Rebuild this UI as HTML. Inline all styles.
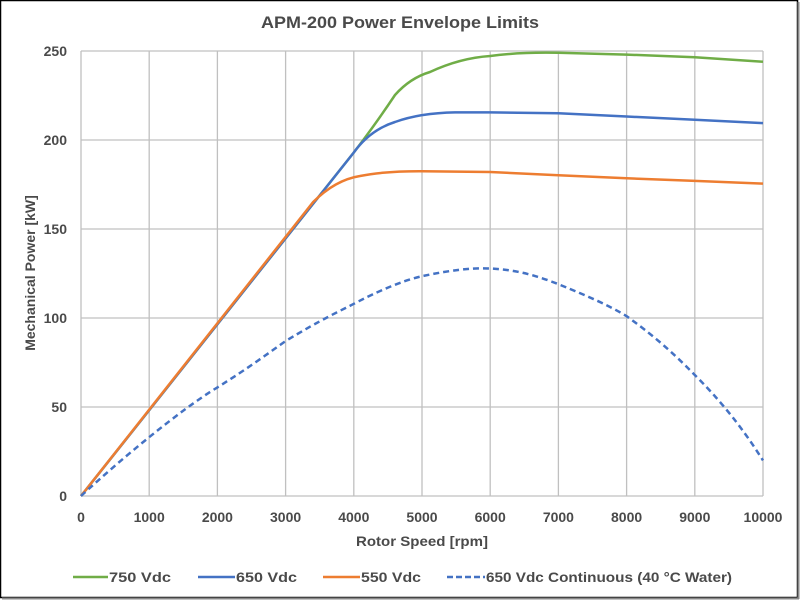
<!DOCTYPE html>
<html><head><style>
body{margin:0;background:#fff}
svg{display:block}
text{font-family:"Liberation Sans",Arial,sans-serif;font-weight:bold;fill:#4a4a4a}
</style></head><body>
<svg width="800" height="600" viewBox="0 0 800 600">
<rect x="0.5" y="0.5" width="797" height="597" fill="#fff" stroke="#000" stroke-width="1.5"/>
<line x1="798.5" y1="2" x2="798.5" y2="599" stroke="#888" stroke-width="2"/>
<line x1="2" y1="598.5" x2="799" y2="598.5" stroke="#888" stroke-width="2"/>
<text x="261" y="28" font-size="17" textLength="278" lengthAdjust="spacingAndGlyphs">APM-200 Power Envelope Limits</text>
<g stroke="#c0c0c0" stroke-width="1.3">
<line x1="81" y1="51" x2="763" y2="51"/><line x1="81" y1="140" x2="763" y2="140"/><line x1="81" y1="229" x2="763" y2="229"/><line x1="81" y1="318" x2="763" y2="318"/><line x1="81" y1="407" x2="763" y2="407"/><line x1="81" y1="496" x2="763" y2="496"/>
<line x1="81" y1="51" x2="81" y2="496"/><line x1="149.2" y1="51" x2="149.2" y2="496"/><line x1="217.4" y1="51" x2="217.4" y2="496"/><line x1="285.6" y1="51" x2="285.6" y2="496"/><line x1="353.8" y1="51" x2="353.8" y2="496"/><line x1="422" y1="51" x2="422" y2="496"/><line x1="490.2" y1="51" x2="490.2" y2="496"/><line x1="558.4" y1="51" x2="558.4" y2="496"/><line x1="626.6" y1="51" x2="626.6" y2="496"/><line x1="694.8" y1="51" x2="694.8" y2="496"/><line x1="763" y1="51" x2="763" y2="496"/>
</g>
<g font-size="14" text-anchor="end">
<text x="67" y="56">250</text><text x="67" y="145">200</text><text x="67" y="234">150</text><text x="67" y="323">100</text><text x="67" y="412">50</text><text x="67" y="501">0</text>
</g>
<g font-size="14" text-anchor="middle">
<text x="81" y="522">0</text><text x="149.2" y="522">1000</text><text x="217.4" y="522">2000</text><text x="285.6" y="522">3000</text><text x="353.8" y="522">4000</text><text x="422" y="522">5000</text><text x="490.2" y="522">6000</text><text x="558.4" y="522">7000</text><text x="626.6" y="522">8000</text><text x="694.8" y="522">9000</text><text x="763" y="522">10000</text>
</g>
<text x="356" y="546" font-size="14" textLength="132" lengthAdjust="spacingAndGlyphs">Rotor Speed [rpm]</text>
<text transform="translate(35,273) rotate(-90)" font-size="14" text-anchor="middle">Mechanical Power [kW]</text>
<g fill="none" stroke-width="2.5">
<path stroke="#70ad47" d="M81,496 L353.8,152.5 Q375,125 395,95 Q410,78 430,72 Q460,58 490.2,56 Q520,52 558.4,52.8 L626.6,54.6 L694.8,57.2 L763,61.7"/>
<path stroke="#4472c4" d="M81,496 L353.8,152.5 Q370,130 395,122 Q420,113 455,112.4 L490.2,112.4 L558.4,113.3 L626.6,116.5 L694.8,119.8 L763,123.1"/>
<path stroke="#ed7d31" d="M81,496 L312.9,202.3 Q335,180 360,176 Q385,171 422,171.2 L490.2,172 L558.4,175.2 L626.6,178.3 L694.8,180.9 L763,183.6"/>
<path stroke="#4472c4" stroke-dasharray="6,4" d="M81,496 C120,460 180,410 217.4,387.4 C250,367 270,352 285.6,341.1 C320,320 340,311 353.8,303.8 C390,285 410,279 422,276.2 C460,268 480,268 490.2,268.5 C520,270 540,277 558.4,284.2 C590,297 610,306 626.6,316.2 C660,340 680,360 694.8,375 C730,410 750,440 763,460.4"/>
</g>
<g font-size="14">
<line x1="73" y1="577" x2="108" y2="577" stroke="#70ad47" stroke-width="2.5"/><text x="109" y="582" textLength="62" lengthAdjust="spacingAndGlyphs">750 Vdc</text>
<line x1="198" y1="577" x2="235" y2="577" stroke="#4472c4" stroke-width="2.5"/><text x="236" y="582" textLength="61" lengthAdjust="spacingAndGlyphs">650 Vdc</text>
<line x1="323" y1="577" x2="360" y2="577" stroke="#ed7d31" stroke-width="2.5"/><text x="361" y="582" textLength="60" lengthAdjust="spacingAndGlyphs">550 Vdc</text>
<line x1="447" y1="577" x2="485" y2="577" stroke="#4472c4" stroke-width="2.5" stroke-dasharray="6,3"/><text x="486" y="582" textLength="246" lengthAdjust="spacingAndGlyphs">650 Vdc Continuous (40 °C Water)</text>
</g>
</svg>
</body></html>
